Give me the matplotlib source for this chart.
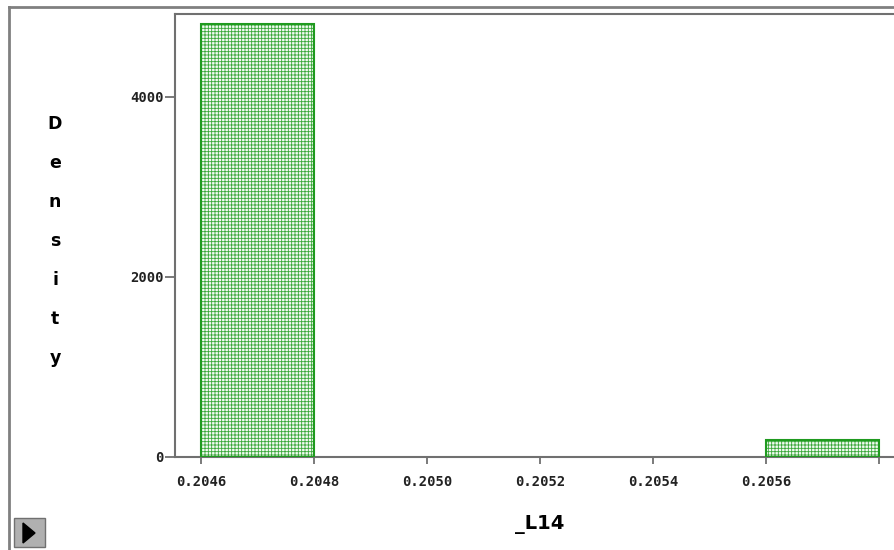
import matplotlib
matplotlib.use("Agg")
import matplotlib.pyplot as plt
from matplotlib.patches import Rectangle, Polygon
from matplotlib.lines import Line2D

# Histogram of _L14: bin edges and density per bin
bin_edges = [0.2046, 0.2048, 0.2050, 0.2052, 0.2054, 0.2056, 0.2058]
densities = [4811, 0, 0, 0, 0, 189]
x_ticks = [0.2046, 0.2048, 0.2050, 0.2052, 0.2054, 0.2056]
x_tick_labels = ["0.2046", "0.2048", "0.2050", "0.2052", "0.2054", "0.2056"]
y_ticks = [0, 2000, 4000]
y_tick_labels = ["0", "2000", "4000"]

W, H = 894, 550
fig = plt.figure(figsize=(W / 100, H / 100), dpi=100)
fig.patch.set_facecolor("white")

# axes box in pixel coordinates
ax_left, ax_right, ax_top, ax_bottom = 175, 900, 14, 457
ax = fig.add_axes([ax_left / W, 1 - ax_bottom / H,
                   (ax_right - ax_left) / W, (ax_bottom - ax_top) / H])

px_per_bin = 113.0
bw = bin_edges[1] - bin_edges[0]
x0 = bin_edges[0] - (201 - ax_left) / px_per_bin * bw
x1 = bin_edges[0] + (ax_right - 201) / px_per_bin * bw
ax.set_xlim(x0, x1)
ax.set_ylim(0, 4922)

plt.rcParams["hatch.linewidth"] = 0.6
green = "#1f9a1f"
for i, d in enumerate(densities):
    if d <= 0:
        continue
    ax.bar(bin_edges[i], d, width=bin_edges[i + 1] - bin_edges[i], align="edge",
           facecolor="#f2faf2", edgecolor="#3aa83a", linewidth=0, hatch="+++++",
           zorder=2)
    ax.bar(bin_edges[i], d, width=bin_edges[i + 1] - bin_edges[i], align="edge",
           facecolor="none", edgecolor=green, linewidth=1.5, zorder=3)

for s in ["left", "top", "bottom", "right"]:
    ax.spines[s].set_color("#707070")
    ax.spines[s].set_linewidth(1.5)

tick_font = dict(family="DejaVu Sans Mono", size=10, weight="bold")
ax.set_xticks(x_ticks)
ax.set_xticklabels(x_tick_labels, **tick_font)
ax.set_yticks(y_ticks)
ax.set_yticklabels(y_tick_labels, **tick_font)
ax.tick_params(axis="x", direction="out", length=5, width=1.3, color="#707070",
               pad=8, labelcolor="#222222")
ax.tick_params(axis="y", direction="out", length=7, width=1.3, color="#707070",
               pad=1, labelcolor="#222222")
# tick at the last bin edge
ax.tick_params(axis="x", which="minor", direction="out", length=5, width=1.3,
               color="#707070")
ax.set_xticks([bin_edges[-1]], minor=True)

# vertical stacked y label
fig.text(55 / W, 1 - 241 / H, "\n".join("Density"), ha="center", va="center",
         family="DejaVu Sans", weight="bold", size=12.5, linespacing=2.5,
         color="black")
# x label
fig.text(540 / W, 1 - 525 / H, "_L14", ha="center", va="center",
         family="DejaVu Sans", weight="bold", size=14, color="black")

# outer frame
fig.add_artist(Line2D([9 / W, 9 / W], [0, 1 - 7 / H], transform=fig.transFigure,
                      color="#808080", linewidth=2))
fig.add_artist(Line2D([9 / W, 1], [1 - 7 / H, 1 - 7 / H], transform=fig.transFigure,
                      color="#808080", linewidth=2))

# small play button
fig.add_artist(Rectangle((14 / W, 1 - 547 / H), 31 / W, 29 / H,
                         transform=fig.transFigure, facecolor="#b0b0b0",
                         edgecolor="#707070", linewidth=1))
fig.add_artist(Polygon([(23 / W, 1 - 523 / H), (23 / W, 1 - 543 / H),
                        (35 / W, 1 - 533 / H)], closed=True,
                       transform=fig.transFigure, facecolor="black",
                       edgecolor="black"))

fig.savefig("out.png", dpi=100)
